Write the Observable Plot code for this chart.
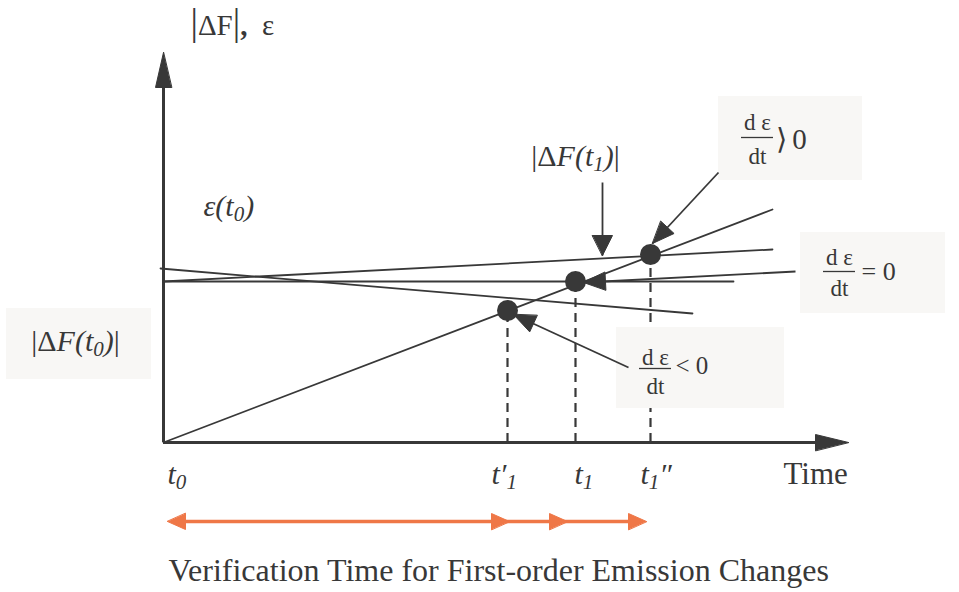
<!DOCTYPE html>
<html><head><meta charset="utf-8">
<script src="https://cdn.jsdelivr.net/npm/d3@7"></script>
<script src="https://cdn.jsdelivr.net/npm/@observablehq/plot@0.6"></script>
<style>html,body{margin:0;padding:0;background:#fff}svg{display:block}svg text{font-family:"Liberation Serif","Times New Roman",serif}</style>
</head><body><div id="chart"></div>
<script>
// Chart units: x = time measured from t0, y = level of |ΔF| / ε above the time axis
const timeAxisEnd = 685;
const valueAxisEnd = 390;

// straight curves of the schematic
const curveNames = ["|ΔF|", "ε rising", "ε constant", "ε falling"];
const curveX0 = [0, 0, 0, -3];
const curveY0 = [0, 161, 161, 174];
const curveX1 = [609, 609, 570, 529];
const curveY1 = [233, 193, 161, 129];

// crossing points (t'1, t1, t1'')
const crossTimes = [344, 412, 487];
const crossLevels = [132, 161, 188];

// time-axis tick labels
const tickLabels = ["t_{0}", "t′_{1}", "t_{1}", "t_{1}″"];
const tickLabelX = [4, 328, 411, 477];
const tickLabelY = -41;

// annotation arrows
const arrowNames = ["|ΔF(t1)|", "dε/dt>0", "dε/dt=0", "dε/dt<0"];
const arrowFromX = [439, 555, 632, 465];
const arrowFromY = [260, 270, 171, 75];
const arrowToX = [439, 489, 420, 350];
const arrowToY = [187, 199, 160, 128];

// shaded label boxes
const boxNames = ["dε/dt>0", "dε/dt=0", "dε/dt<0", "|ΔF(t0)|"];
const boxX1 = [555, 637, 453, -157];
const boxX2 = [699, 782, 621, -12];
const boxY1 = [262, 129, 34, 63];
const boxY2 = [346, 210, 115, 134];

// derivative fractions
const fracX = [594, 676, 492];
const fracNumY = [313, 178, 78];
const fracBarY = [305, 171, 74];
const fracDenY = [279, 147, 49];
const fracRel = ["⟩\u20090", "= 0", "< 0"];
const fracRelX = [612, 698, 512];
const fracRelY = [294, 163, 69];
const fracRelSize = [29, 26, 25];

// free labels
const centeredTexts = ["|Δ*F(t_{1})*|", "|Δ*F(t_{0})*|"];
const centeredX = [412, -88];
const centeredY = [277, 92];
const axisTitle = "^{|}ΔF^{|}!{,}  ε";
const epsilonLabel = "*ε(t_{0})*";

// verification-time arrows
const verifyStops = [4, 346, 404, 483];
const verifyLevel = -79;
const caption = "Verification Time for First-order Emission Changes";

const ink = "#383838", orange = "#ef7747", boxFill = "#f8f7f5";
const serif = "Liberation Serif";

// ---- derived tables ----
const curves = curveNames.flatMap((n, i) => [
  {n, x: curveX0[i], y: curveY0[i]}, {n, x: curveX1[i], y: curveY1[i]}]);
const crosses = crossTimes.map((t, i) => ({t, v: crossLevels[i]}));
const heads = [];
function head(id, tx, ty, fx, fy, len, hw, color) {
  const dx = tx - fx, dy = ty - fy, L = Math.hypot(dx, dy);
  const ux = dx / L, uy = dy / L, bx = tx - ux * len, by = ty - uy * len;
  heads.push({id, color, x: tx, y: ty},
    {id, color, x: bx - uy * hw, y: by + ux * hw},
    {id, color, x: bx + uy * hw, y: by - ux * hw});
}
head("yaxis", 0, valueAxisEnd, 0, 0, 35, 8, ink);
head("xaxis", timeAxisEnd, 0, 0, 0, 33, 8, ink);
const arrows = arrowNames.map((n, i) => {
  const down = i === 0;
  head("a" + i, arrowToX[i], arrowToY[i], arrowFromX[i], arrowFromY[i], down ? 20 : 22, down ? 10 : 9, ink);
  return {n, x1: arrowFromX[i], y1: arrowFromY[i], x2: arrowToX[i], y2: arrowToY[i]};
});
head("v0", verifyStops[0], verifyLevel, verifyStops[3], verifyLevel, 18, 8, orange);
verifyStops.slice(1).forEach((s, i) => head("v" + (i + 1), s, verifyLevel, verifyStops[0], verifyLevel, 18, 8, orange));
const boxes = boxNames.map((n, i) => ({n, x1: boxX1[i], x2: boxX2[i], y1: boxY1[i], y2: boxY2[i]}));
const fracs = fracX.map((x, i) => ({x, num: fracNumY[i], bar: fracBarY[i], den: fracDenY[i], rel: fracRel[i], rx: fracRelX[i], ry: fracRelY[i], rs: fracRelSize[i]}));
const ticks = tickLabels.map((t, i) => ({t, x: tickLabelX[i], y: tickLabelY}));
const centered = centeredTexts.map((t, i) => ({t, x: centeredX[i], y: centeredY[i]}));

const txt = {fontFamily: serif, fill: ink, lineAnchor: "bottom"};
const plot = Plot.plot({
  width: 959, height: 592, margin: 0,
  x: {type: "linear", domain: [-163, 796], range: [0, 959], axis: null},
  y: {type: "linear", domain: [-150, 442], range: [592, 0], axis: null},
  style: {background: "#fff", color: ink},
  marks: [
    // axes
    Plot.ruleX([0], {y1: 0, y2: valueAxisEnd - 20, stroke: ink, strokeWidth: 3}),
    Plot.ruleY([0], {x1: 0, x2: timeAxisEnd - 20, stroke: ink, strokeWidth: 3}),
    // curves
    Plot.line(curves, {x: "x", y: "y", z: "n", stroke: ink, strokeWidth: 1.8}),
    // dashed projections
    Plot.ruleX(crosses, {x: "t", y1: 0, y2: "v", stroke: ink, strokeWidth: 2.2, strokeDasharray: "9,6"}),
    Plot.dot(crosses, {x: "t", y: "v", r: 10.5, fill: ink}),
    // label boxes sit above the dashes
    Plot.rect(boxes, {x1: "x1", x2: "x2", y1: "y1", y2: "y2", fill: boxFill, fillOpacity: 1}),
    // annotation arrows
    Plot.link(arrows, {x1: "x1", y1: "y1", x2: "x2", y2: "y2", stroke: ink, strokeWidth: 1.8}),
    Plot.ruleY([verifyLevel], {x1: verifyStops[0] + 5, x2: verifyStops[3] - 5, stroke: orange, strokeWidth: 3.5}),
    Plot.line(heads, {x: "x", y: "y", z: "id", fill: "color", stroke: "color", strokeWidth: 1, curve: "linear-closed"}),
    // fractions
    Plot.ruleY(fracs, {y: "bar", x1: d => d.x - 16, x2: d => d.x + 16, stroke: ink, strokeWidth: 1.3}),
    Plot.text(fracs, {...txt, x: "x", y: "num", text: () => "d ε", fontSize: 23}),
    Plot.text(fracs, {...txt, x: "x", y: "den", text: () => "dt", fontSize: 23}),
    Plot.text(fracs, {...txt, x: "rx", y: "ry", text: "rel", fontSize: "rs", textAnchor: "start"}),
    // labels
    Plot.text(centered, {...txt, x: "x", y: "y", text: "t", fontSize: 30}),
    Plot.text([epsilonLabel], {...txt, x: 40, y: 227, text: d => d, fontSize: 30, textAnchor: "start"}),
    Plot.text(ticks, {...txt, x: "x", y: "y", text: "t", fontSize: 30, fontStyle: "italic", textAnchor: "start"}),
    Plot.text(["Time"], {...txt, x: 620, y: -41, text: d => d, fontSize: 31, textAnchor: "start"}),
    Plot.text([axisTitle], {...txt, x: 27, y: 408, text: d => d, fontSize: 29, textAnchor: "start"}),
    Plot.text([caption], {...txt, x: 5, y: -138, text: d => d, fontSize: 32, textAnchor: "start"})
  ]
});

// turn *italic*, _{sub}, ^{big} and !{bold} markup into tspans
function parseRich(s) {
  const runs = []; let italic = false, mode = null, buf = "";
  const push = () => { if (buf) runs.push({text: buf, italic, mode}); buf = ""; };
  for (let i = 0; i < s.length; i++) {
    const c = s[i];
    if (c === "*") { push(); italic = !italic; }
    else if ("_^!".includes(c) && s[i + 1] === "{") { push(); mode = c; i++; }
    else if (c === "}" && mode) { push(); mode = null; }
    else buf += c;
  }
  push();
  return runs;
}
plot.querySelectorAll("text").forEach(t => {
  const s = t.textContent;
  if (!/[*]|[_^!]\{/.test(s)) return;
  const runs = parseRich(s);
  t.textContent = "";
  t.setAttribute("xml:space", "preserve");
  t.style.whiteSpace = "pre";
  let prevSub = false;
  for (const r of runs) {
    const ts = document.createElementNS("http://www.w3.org/2000/svg", "tspan");
    ts.textContent = r.text;
    if (r.italic) ts.setAttribute("font-style", "italic");
    if (r.mode === "_") { ts.setAttribute("font-size", "70%"); ts.setAttribute("dy", "0.25em"); }
    else if (prevSub) ts.setAttribute("dy", "-0.175em");
    if (r.mode === "^") ts.setAttribute("font-size", "128%");
    if (r.mode === "!") ts.setAttribute("font-weight", "bold");
    prevSub = r.mode === "_";
    t.appendChild(ts);
  }
});
document.getElementById("chart").appendChild(plot);
</script>
</body></html>
